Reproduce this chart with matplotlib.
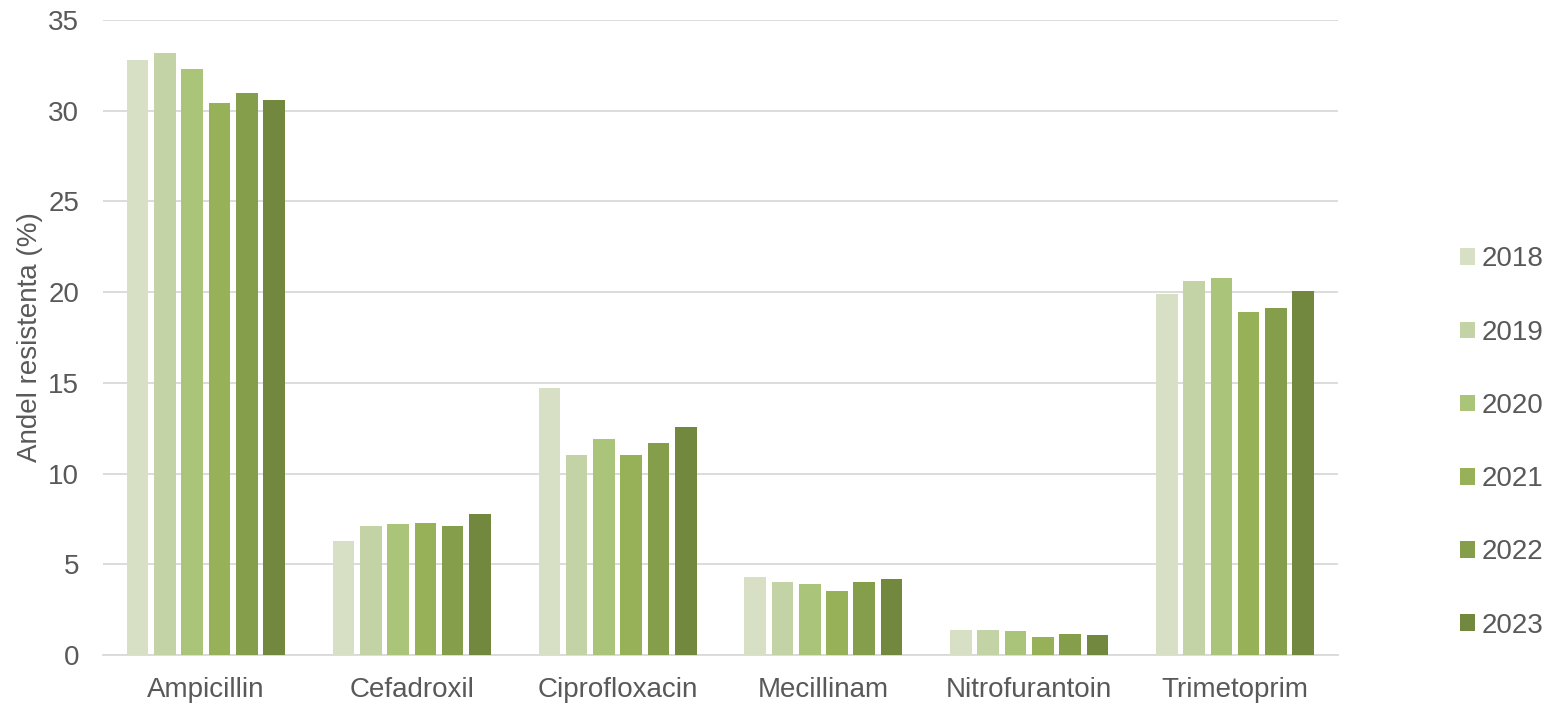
import numpy as np
import matplotlib
matplotlib.use("Agg")
import matplotlib.pyplot as plt

plt.rcParams['font.family'] = ['Liberation Sans', 'DejaVu Sans']

# data
categories = ['Ampicillin', 'Cefadroxil', 'Ciprofloxacin', 'Mecillinam', 'Nitrofurantoin', 'Trimetoprim']
years = ['2018', '2019', '2020', '2021', '2022', '2023']
v2018 = [32.8, 6.3, 14.7, 4.3, 1.4, 19.9]
v2019 = [33.2, 7.1, 11.0, 4.0, 1.4, 20.6]
v2020 = [32.3, 7.2, 11.9, 3.9, 1.3, 20.8]
v2021 = [30.4, 7.3, 11.0, 3.5, 1.0, 18.9]
v2022 = [30.95, 7.1, 11.7, 4.0, 1.15, 19.15]
v2023 = [30.6, 7.75, 12.55, 4.2, 1.1, 20.05]
series = [v2018, v2019, v2020, v2021, v2022, v2023]
colors = ['#d7e0c5', '#c3d3a5', '#aac47a', '#96b157', '#849e4b', '#72883e']

fig = plt.figure(figsize=(15.48, 7.03), dpi=100)
ax = fig.add_axes([0.0665, 0.0683, 0.7978, 0.9033])

x = np.arange(len(categories))
pitch = 0.1325
for i, (vals, c, yr) in enumerate(zip(series, colors, years)):
    ax.bar(x + (i - 2.5) * pitch, vals, width=0.105, color=c,
           edgecolor='none', label=yr, zorder=3)

ax.set_xlim(-0.5, 5.5)
ax.set_ylim(0, 35)
ax.set_yticks(np.arange(0, 36, 5))
ax.set_xticks(x)
ax.set_xticklabels(categories)
ax.grid(axis='y', color='#d9d9d9', linewidth=1.3, zorder=0)
for s in ['top', 'right', 'left']:
    ax.spines[s].set_visible(False)
ax.spines['bottom'].set_color('#d9d9d9')
ax.spines['bottom'].set_linewidth(1.3)
ax.tick_params(axis='both', length=0, labelsize=20, colors='#595959')
ax.tick_params(axis='y', pad=17)
ax.tick_params(axis='x', pad=15.5)
ax.set_ylabel('Andel resistenta (%)', fontsize=20, color='#595959', labelpad=4)

fig.legend(loc='center left', bbox_to_anchor=(0.927, 0.3705), frameon=False,
           fontsize=20, labelcolor='#595959', handlelength=0.55, handleheight=0.55,
           handletextpad=0.22, labelspacing=1.70)

fig.savefig('out.png', dpi=100)
